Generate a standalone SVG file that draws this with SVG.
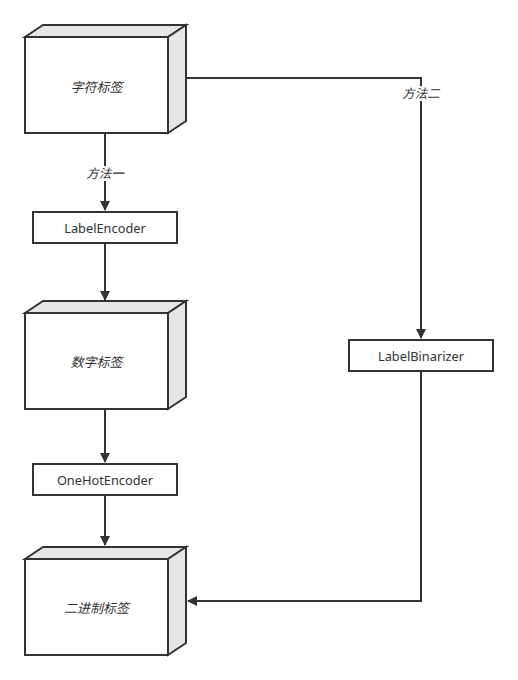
<svg xmlns="http://www.w3.org/2000/svg" width="518" height="680" viewBox="0 0 518 680">
<style>
.front{fill:#fff;stroke:#333;stroke-width:2}
.side{fill:#e6e6e6;stroke:#333;stroke-width:2;stroke-linejoin:miter}
.box{fill:#fff;stroke:#333;stroke-width:2}
.lbl{font-family:"Liberation Sans","Noto Sans CJK SC",sans-serif;font-size:13px;font-style:italic;fill:#333;text-anchor:middle}
.txt{font-family:"Noto Sans","Liberation Sans",sans-serif;font-size:12.8px;fill:#333;text-anchor:middle}
.edge{fill:none;stroke:#333;stroke-width:2}
.elbl{font-family:"Liberation Sans","Noto Sans CJK SC",sans-serif;font-size:12.5px;font-style:italic;fill:#333;text-anchor:middle}
</style>
<defs>
<marker id="arr" viewBox="0 0 10 10" refX="9" refY="5" markerWidth="5" markerHeight="5" markerUnits="strokeWidth" orient="auto">
<path d="M0,0 L10,5 L0,10 z" fill="#333"/>
</marker>
</defs>
<rect width="518" height="680" fill="#fff"/>
<g id="connectors">
<line class="edge" x1="105" y1="133" x2="105" y2="210" marker-end="url(#arr)"/>
<rect x="85" y="166" width="40" height="15" fill="#fff"/>
<text class="elbl" x="105" y="178">方法一</text>
<line class="edge" x1="105" y1="243" x2="105" y2="300" marker-end="url(#arr)"/>
<line class="edge" x1="105" y1="409" x2="105" y2="462" marker-end="url(#arr)"/>
<line class="edge" x1="105" y1="495" x2="105" y2="545" marker-end="url(#arr)"/>
<polyline class="edge" points="186,78 421,78 421,338" marker-end="url(#arr)"/>
<rect x="401" y="86" width="40" height="15" fill="#fff"/>
<text class="elbl" x="421" y="98">方法二</text>
<polyline class="edge" points="421,371 421,601 188,601" marker-end="url(#arr)"/>
</g>
<g id="node-zifu">
<polygon class="side" points="25,37 43,25 186,25 168,37"/>
<polygon class="side" points="168,37 186,25 186,121 168,133"/>
<rect class="front" x="25" y="37" width="143" height="96"/>
<text class="lbl" x="96.5" y="92">字符标签</text>
</g>
<g id="node-labelencoder">
<rect class="box" x="33" y="212" width="144" height="31"/>
<text class="txt" x="105" y="233">LabelEncoder</text>
</g>
<g id="node-shuzi">
<polygon class="side" points="25,313 43,301 186,301 168,313"/>
<polygon class="side" points="168,313 186,301 186,397 168,409"/>
<rect class="front" x="25" y="313" width="143" height="96"/>
<text class="lbl" x="96.5" y="367">数字标签</text>
</g>
<g id="node-onehot">
<rect class="box" x="33" y="464" width="144" height="31"/>
<text class="txt" x="105" y="485">OneHotEncoder</text>
</g>
<g id="node-binarizer">
<rect class="box" x="349" y="340" width="144" height="31"/>
<text class="txt" x="421" y="361">LabelBinarizer</text>
</g>
<g id="node-erjinzhi">
<polygon class="side" points="25,559 43,547 186,547 168,559"/>
<polygon class="side" points="168,559 186,547 186,643 168,655"/>
<rect class="front" x="25" y="559" width="143" height="96"/>
<text class="lbl" x="96.5" y="613">二进制标签</text>
</g>
</svg>
